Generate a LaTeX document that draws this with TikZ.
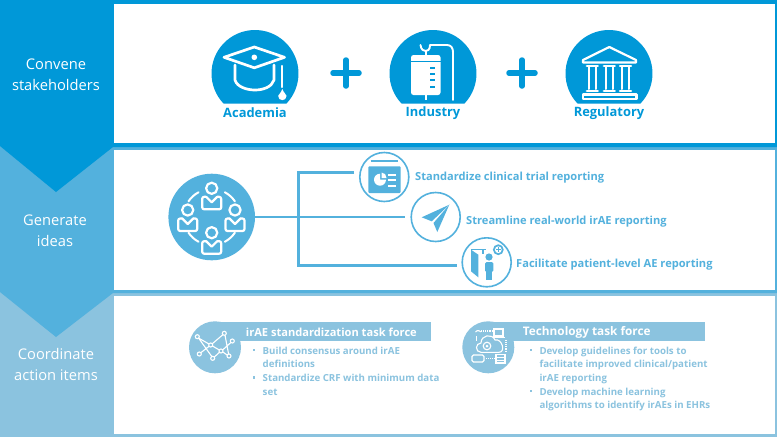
\documentclass[tikz,border=0pt]{standalone}
\usepackage{fontspec}
\setmainfont{Open Sans}
\usetikzlibrary{calc}
\definecolor{topblue}{HTML}{0098D8}
\definecolor{midblue}{HTML}{53B1DD}
\definecolor{lowblue}{HTML}{8BC3DF}
\tikzset{
  panel/.style={fill=white},
  steplabel/.style={text=white,align=center,font=\fontsize{14.7}{21}\selectfont},
  toplabel/.style={text=topblue,font=\bfseries\fontsize{12.9}{15}\selectfont},
  whiteline/.style={draw=white,line width=2.7,line join=round,line cap=round},
  thinwhite/.style={draw=white,line width=1.1},
  stem/.style={draw=midblue,line width=2.8},
  ringicon/.style={circle,draw=midblue,line width=1.6,fill=white,minimum size=49pt,inner sep=0pt},
  idealabel/.style={text=midblue,anchor=west,font=\bfseries\fontsize{11.1}{13}\selectfont},
  bannertext/.style={text=white,anchor=west,font=\bfseries\fontsize{11.1}{14}\selectfont},
  itemtext/.style={text=lowblue,anchor=north west,align=left,inner sep=0pt,font=\bfseries\fontsize{9.7}{13.7}\selectfont},
}
\begin{document}
\begin{tikzpicture}[x=1pt,y=-1pt]
\useasboundingbox (0,0) rectangle (777,437);
% bands, lowest first
\fill[lowblue] (0,0) rectangle (777,437);
\fill[midblue] (0,0) -- (777,0) -- (777,293) -- (113,293) -- (56,337) -- (0,292) -- cycle;
\fill[topblue] (0,0) -- (777,0) -- (777,147) -- (113,147) -- (56,192) -- (0,146) -- cycle;
\fill[panel] (113.5,3.5) rectangle (775,143);
\fill[panel] (113.5,150) rectangle (775,289.5);
\fill[panel] (113.5,296) rectangle (775,433.5);
\node[steplabel] (convene) at (56,74.5) {Convene\\stakeholders};
\node[steplabel] (generate) at (55,231) {Generate\\ideas};
\node[steplabel] (coordinate) at (56,364.5) {Coordinate\\action items};
% first row
\foreach \cx in {255,433,609}
  \fill[topblue] (\cx,73.5) ++(-43.6:43.5pt) arc[start angle=-43.6,end angle=223.6,radius=43.5pt] -- cycle;
\foreach \cx in {346,522} {
  \draw[topblue,line width=5.5,line cap=round] (\cx-13,73) -- (\cx+13,73);
  \draw[topblue,line width=5.5,line cap=round] (\cx,60) -- (\cx,86);
}
\node[toplabel] (academia) at (255,113) {Academia};
\node[toplabel] (industry) at (433,113) {Industry};
\node[toplabel] (regulatory) at (609,113) {Regulatory};
% cap
\draw[whiteline] (224,57.3) -- (254.3,47) -- (284.5,57.3) -- (254.3,67.8) -- cycle;
\fill[white] (254.3,57.3) circle [radius=2.8pt];
\draw[whiteline] (235,65) -- (235,80) .. controls (237,87) and (247,90) .. (255,90) .. controls (263,90) and (272,87) .. (274,80) -- (274,65);
\draw[whiteline,line width=2.2] (282.3,66) -- (282.3,87);
\fill[white] (282.3,89) .. controls (284,93) and (286.5,95) .. (286.5,96) .. controls (286.5,101.5) and (278.2,101.5) .. (278.2,96) .. controls (278.2,95) and (281,93) .. (282.3,89) -- cycle;
% infusion bag
\fill[white,rounded corners=2.5] (411,55) rectangle (440.5,95);
\draw[topblue,line width=1] (411,61.7) -- (440.5,61.7);
\foreach \ty in {68,74,80,87}
  \draw[topblue,line width=1.6] (430,\ty) -- (435,\ty);
\draw[whiteline,line width=1.9] (420.5,45) .. controls (421,50) and (424,51) .. (425.7,51) .. controls (427.5,51) and (430,50) .. (430,45) -- (447,45) .. controls (451,45) and (453,48) .. (453,52) -- (453,100);
\draw[whiteline,line width=1.9] (425.7,51) -- (425.7,55);
\draw[whiteline,line width=1.9,line cap=butt] (425.7,95) -- (425.7,100);
% bank
\draw[whiteline,line width=2.2] (609.3,47) -- (583,60) -- (583,62.5) -- (636,62.5) -- (636,60) -- cycle;
\foreach \cx in {592.3,609.3,625.5} {
  \draw[whiteline,line width=2.2] (\cx-5.5,66) -- (\cx+5.5,66);
  \draw[whiteline,line width=2] (\cx-3.3,67) -- (\cx-3.3,89) (\cx+3.3,67) -- (\cx+3.3,89);
  \draw[whiteline,line width=2.2] (\cx-5.5,91) -- (\cx+5.5,91);
}
\draw[whiteline,line width=2.2] (583,94.5) rectangle (636.5,99);
% second row
\node[circle,fill=midblue,minimum size=86.6pt,inner sep=0pt] (people) at (211.7,217) {};
\node[ringicon] (trial) at (384.3,177) {};
\node[ringicon] (plane) at (435.7,217) {};
\node[ringicon] (patient) at (486.7,262.3) {};
\coordinate (trialend) at (354,172.3);
\coordinate (patientend) at (456.7,265.7);
\coordinate (bendtop) at (298.3,172.3);
\coordinate (bendlow) at (298.3,265.7);
\draw[stem] (trialend) -- (bendtop) -- (bendlow) -- (patientend);
\draw[stem,shorten >=5.5pt] (people) -- (plane);
\foreach \px/\py in {211.7/202.3,235/224,187.7/224,211.7/246.7} {
  \draw[whiteline,line width=2.2] (\px,\py-14) circle [radius=5.6pt];
  \draw[whiteline,line width=2.2,rounded corners=2] (\px-5.5,\py-5.5) -- (\px-9.5,\py-5.5) -- (\px-9.5,\py+7) -- (\px+9.5,\py+7) -- (\px+9.5,\py-5.5) -- (\px+5.5,\py-5.5);
  \draw[whiteline,line width=2.2] (\px-5.5,\py-5.5) -- (\px,\py) -- (\px+5.5,\py-5.5);
}
\foreach \aa/\ab in {118/146,34/62,214/242,298/326}
  \draw[whiteline,line width=2] (people.center) ++(\aa:28pt) arc[start angle=\aa,end angle=\ab,radius=28pt];
% report icon
\draw[midblue,line width=1.7] (370.7,161.3) -- (398.3,161.3);
\fill[midblue,rounded corners=1] (368.3,166.3) rectangle (400.7,193);
\fill[white] (380,179.7) -- (380,173.7) arc[start angle=90,end angle=360,radius=6pt] -- cycle;
\fill[white] (381.5,178) -- (381.5,172.5) .. controls (384.5,172.5) and (386.5,175) .. (386.5,178) -- cycle;
\foreach \ty in {174.7,180.3,186.3}
  \draw[white,line width=1.9] (388.3,\ty) -- (396,\ty);
% plane icon
\fill[midblue] (449.3,204.7) -- (421.7,217.3) -- (431.7,221.3) -- cycle;
\fill[midblue] (449.3,204.7) -- (433.5,223) -- (437.3,232) -- cycle;
% patient icon
\fill[midblue] (471,249.7) -- (478.3,254.7) -- (478.3,277.3) -- (471,271.3) -- cycle;
\draw[midblue,line width=1.4] (471,249.7) -- (486,249.7);
\draw[midblue,line width=1.4] (483,250) -- (483,254);
\fill[midblue] (489,257) circle [radius=3.6pt];
\fill[midblue,rounded corners=1.5] (485,262) rectangle (493.3,272);
\fill[midblue] (486,270) rectangle (492.3,280);
\fill[midblue] (498.3,249.7) circle [radius=5.4pt];
\fill[white] (498.3,249.7) circle [radius=3.4pt];
\draw[midblue,line width=1.2] (496,249.7) -- (500.6,249.7) (498.3,247.4) -- (498.3,252);
\node[idealabel,inner sep=0pt] (triallabel) at (415,177.8) {Standardize clinical trial reporting};
\node[idealabel,inner sep=0pt] (planelabel) at (466,221.8) {Streamline real-world irAE reporting};
\node[idealabel,inner sep=0pt] (patientlabel) at (516,264.8) {Facilitate patient-level AE reporting};
% third row
\fill[lowblue] (215,321.7) rectangle (430.7,340.7);
\fill[lowblue] (215,347.3) circle [radius=26pt];
\fill[lowblue] (488.3,321.7) rectangle (705,340.7);
\fill[lowblue] (488.3,347.3) circle [radius=26pt];
\node[bannertext,inner sep=0pt] (standardtitle) at (245.7,332.5) {irAE standardization task force};
\node[bannertext,inner sep=0pt,font=\bfseries\fontsize{11.8}{14}\selectfont] (techtitle) at (522.7,332.5) {Technology task force};
\foreach \bx/\by in {254/350,254/377.3,531/350,531/391}
  \fill[lowblue] (\bx-1.3,\by-1.3) rectangle (\bx+1.3,\by+1.3);
\node[itemtext] (builditem) at (262.5,346.5) {Build consensus around irAE\\definitions\\Standardize CRF with minimum data\\set};
\node[itemtext] (guideitem) at (539.3,346.5) {Develop guidelines for tools to\\facilitate improved clinical/patient\\irAE reporting\\Develop machine learning\\algorithms to identify irAEs in EHRs};
% network icon
\foreach \na/\nb in {197.3/336.7,224.3/333.3,232.3/341,210.7/345,221/351,229/356,199.3/354,212.7/358.3}
  \draw[thinwhite] (\na,\nb) circle [radius=2pt];
\draw[thinwhite] (198.5,338) -- (209,344) (198.5,338) -- (211.8,356.5) (200.7,352.8) -- (209.2,346.2) (212.2,343.8) -- (223,334.6) (225,335.2) -- (228.6,354) (222.8,349.8) -- (231,342.4) (214.3,357) -- (219.5,352.3) (212.5,346) -- (219.3,350) (222.8,352) -- (227.2,355);
% cloud icon
\draw[thinwhite] (481,352.3) .. controls (475,352.3) and (475,343) .. (481,343) .. controls (481,335) and (492,333) .. (495,340) .. controls (502,338) and (506,352.3) .. (499,352.3) -- cycle;
\draw[thinwhite] (487,346) circle [radius=3.8pt];
\fill[white] (487,346) circle [radius=1.5pt];
\draw[thinwhite] (494,329) rectangle (503,336) (492.5,337.5) -- (504.5,337.5);
\draw[thinwhite] (496,354.5) rectangle (505,363);
\draw[thinwhite] (497,357.3) -- (504,357.3) (497,360.2) -- (504,360.2);
\draw[thinwhite,rounded corners=1.5] (472,355) rectangle (484,362);
\draw[thinwhite] (475.5,332) arc[start angle=150,end angle=30,radius=3pt];
\draw[thinwhite] (476.7,336) -- (476.7,341);
\draw[thinwhite,densely dotted] (481,331) -- (492,331) (486,358.5) -- (495,358.5) (506,340) -- (506,352);
\end{tikzpicture}
\end{document}
